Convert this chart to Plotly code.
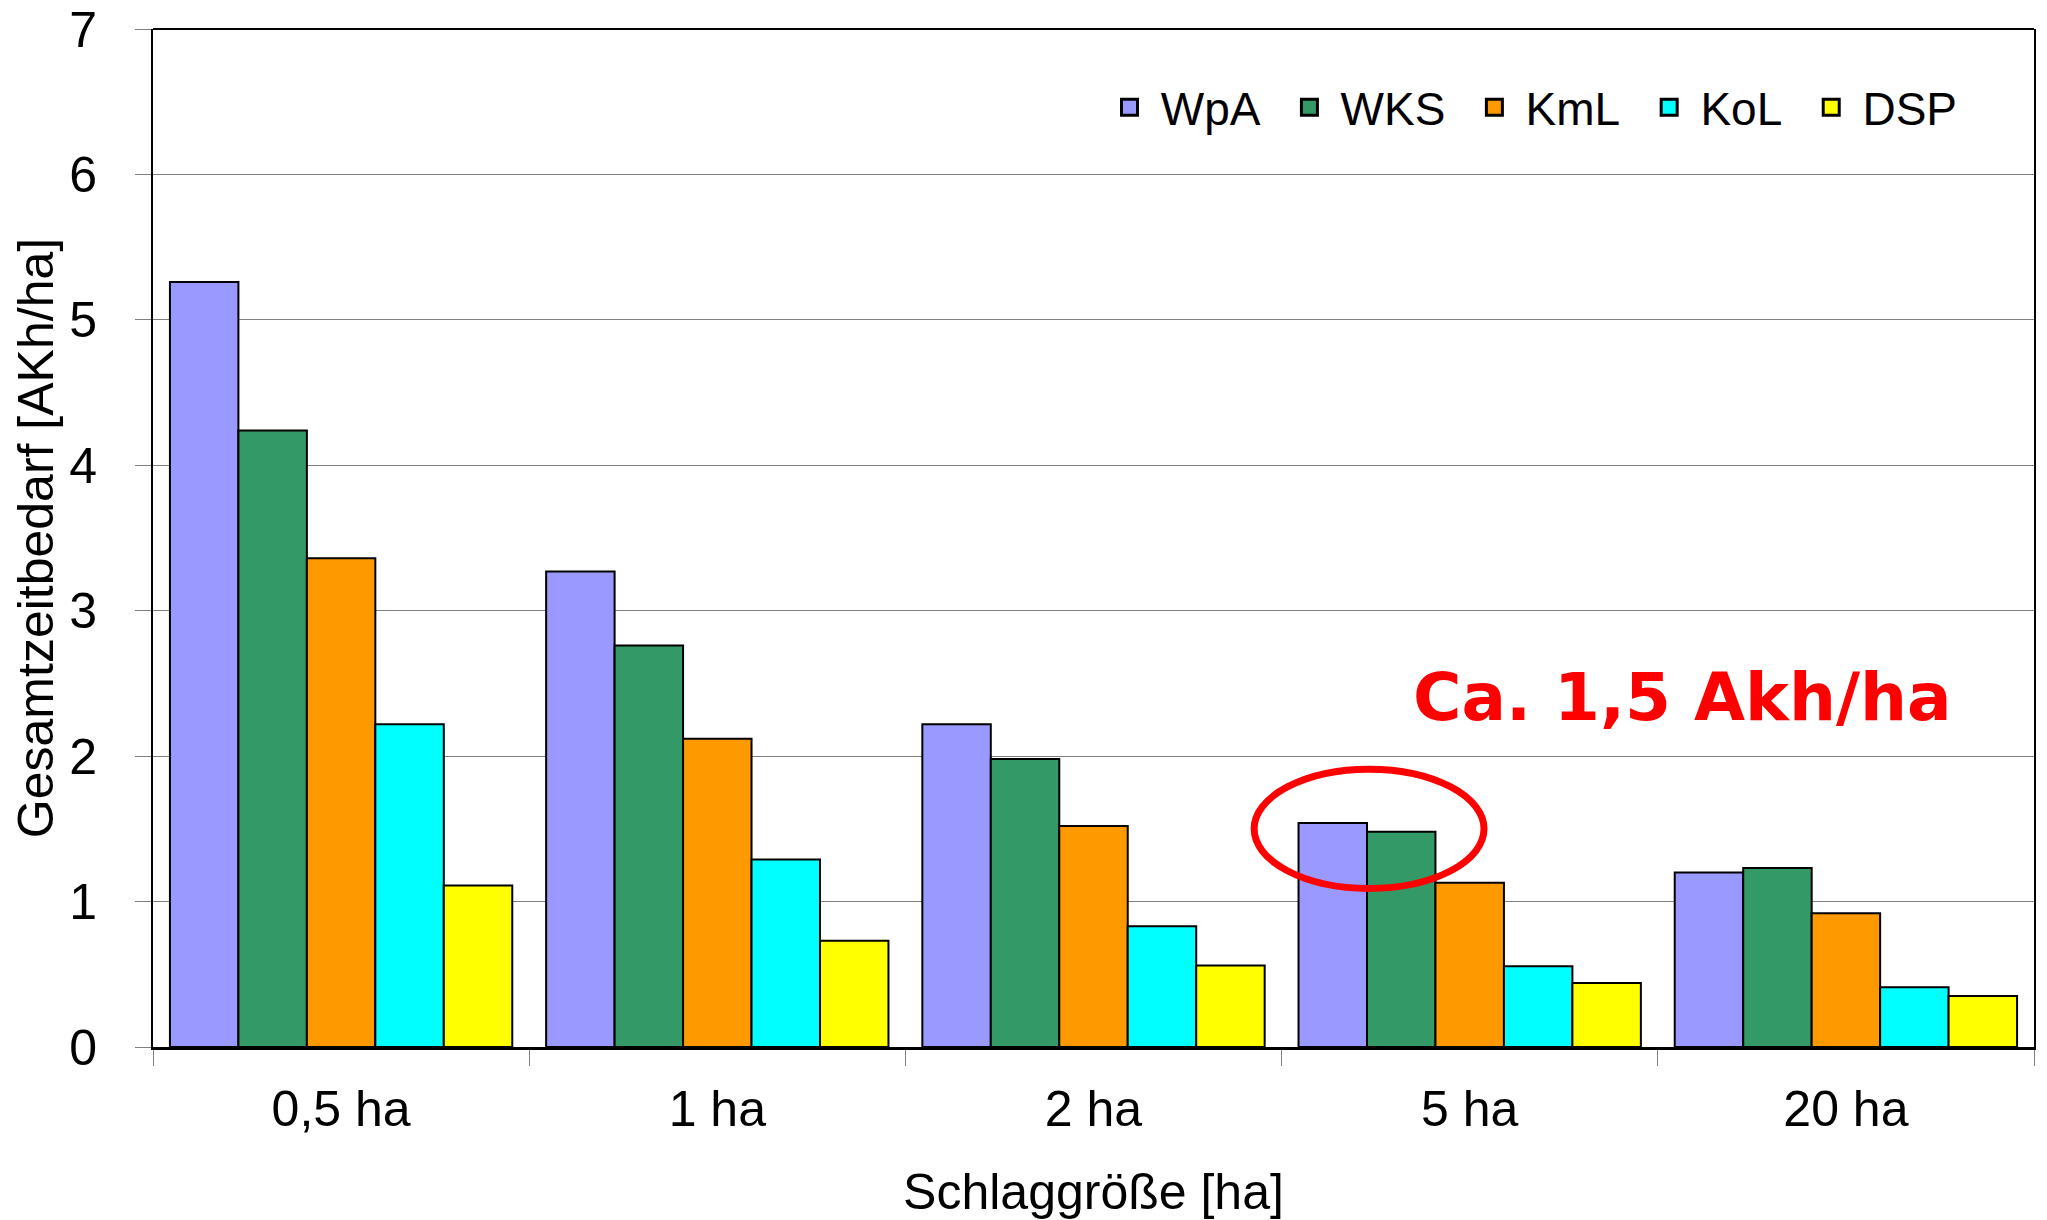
import plotly.graph_objects as go

categories = ["0,5 ha", "1 ha", "2 ha", "5 ha", "20 ha"]
series_names = ["WpA", "WKS", "KmL", "KoL", "DSP"]
WpA = [5.26, 3.27, 2.22, 1.54, 1.20]
WKS = [4.24, 2.76, 1.98, 1.48, 1.23]
KmL = [3.36, 2.12, 1.52, 1.13, 0.92]
KoL = [2.22, 1.29, 0.83, 0.555, 0.41]
DSP = [1.11, 0.73, 0.56, 0.44, 0.35]
y_ticks = [0, 1, 2, 3, 4, 5, 6, 7]

colors = ["#9999FF", "#339966", "#FF9900", "#00FFFF", "#FFFF00"]
values = [WpA, WKS, KmL, KoL, DSP]

FONT = "Liberation Sans, Arial, sans-serif"
LEAD = "\u2009"
PAD = "\u00a0\u2009"

fig = go.Figure()
for name, vals, col in zip(series_names, values, colors):
    fig.add_trace(go.Bar(
        x=categories, y=vals, name=name, showlegend=False,
        marker=dict(color=col, line=dict(color="black", width=2)),
    ))
# legend entries (square markers)
for i, (name, col) in enumerate(zip(series_names, colors)):
    fig.add_trace(go.Scatter(
        x=[None], y=[None], mode="markers",
        name=LEAD + name + (PAD if i < len(series_names) - 1 else ""),
        marker=dict(symbol="square", size=16, color=col,
                    line=dict(color="black", width=3)),
    ))

fig.update_layout(
    width=2047, height=1220,
    margin=dict(l=153, r=13, t=29, b=173),
    paper_bgcolor="white", plot_bgcolor="white",
    font=dict(family=FONT, color="black", size=50),
    barmode="group", bargap=0.09, bargroupgap=0,
    showlegend=True,
    legend=dict(orientation="h", x=0.962, xanchor="right", y=0.923, yanchor="middle",
                font=dict(size=46, family=FONT), bgcolor="rgba(0,0,0,0)",
                itemwidth=34, tracegroupgap=0),
)
fig.update_xaxes(
    type="category", categoryorder="array", categoryarray=categories,
    showline=True, linecolor="black", linewidth=3, mirror=False,
    ticks="outside", tickson="boundaries", ticklen=16, tickcolor="#808080", tickwidth=1,
    ticklabelstandoff=16,
    tickfont=dict(size=50, family=FONT),
    title=dict(text="Schlaggröße [ha]", font=dict(size=50, family=FONT), standoff=41),
    showgrid=False, automargin=False,
)
fig.update_yaxes(
    range=[0, 7], tickvals=y_ticks, ticktext=[str(v) for v in y_ticks],
    showline=True, linecolor="black", linewidth=2, mirror=True,
    ticks="outside", ticklen=16, tickcolor="#808080", tickwidth=1,
    ticklabelstandoff=28, ticklabeloverflow="allow",
    tickfont=dict(size=50, family=FONT),
    showgrid=True, gridcolor="#808080", gridwidth=1,
    zeroline=False,
    title=dict(text="Gesamtzeitbedarf [AKh/ha]", font=dict(size=50, family=FONT), standoff=0),
    automargin=False,
)

fig.add_shape(type="line", xref="paper", yref="paper", x0=0, x1=1, y0=1, y1=1,
              line=dict(color="black", width=2))
fig.add_shape(type="circle", xref="x", yref="y", x0=2.427, x1=3.038, y0=1.09, y1=1.91,
              line=dict(color="#FF0000", width=7), fillcolor="rgba(0,0,0,0)")
fig.add_annotation(text="<b>Ca. 1,5 Akh/ha</b>", xref="paper", yref="y", x=0.813, y=2.40,
                   showarrow=False, font=dict(family="DejaVu Sans", size=66, color="#FF0000"),
                   xanchor="center", yanchor="middle")

fig.write_html("out.html", config={"displayModeBar": False},
               post_script="document.body.style.margin='0';document.body.style.overflow='hidden';")
